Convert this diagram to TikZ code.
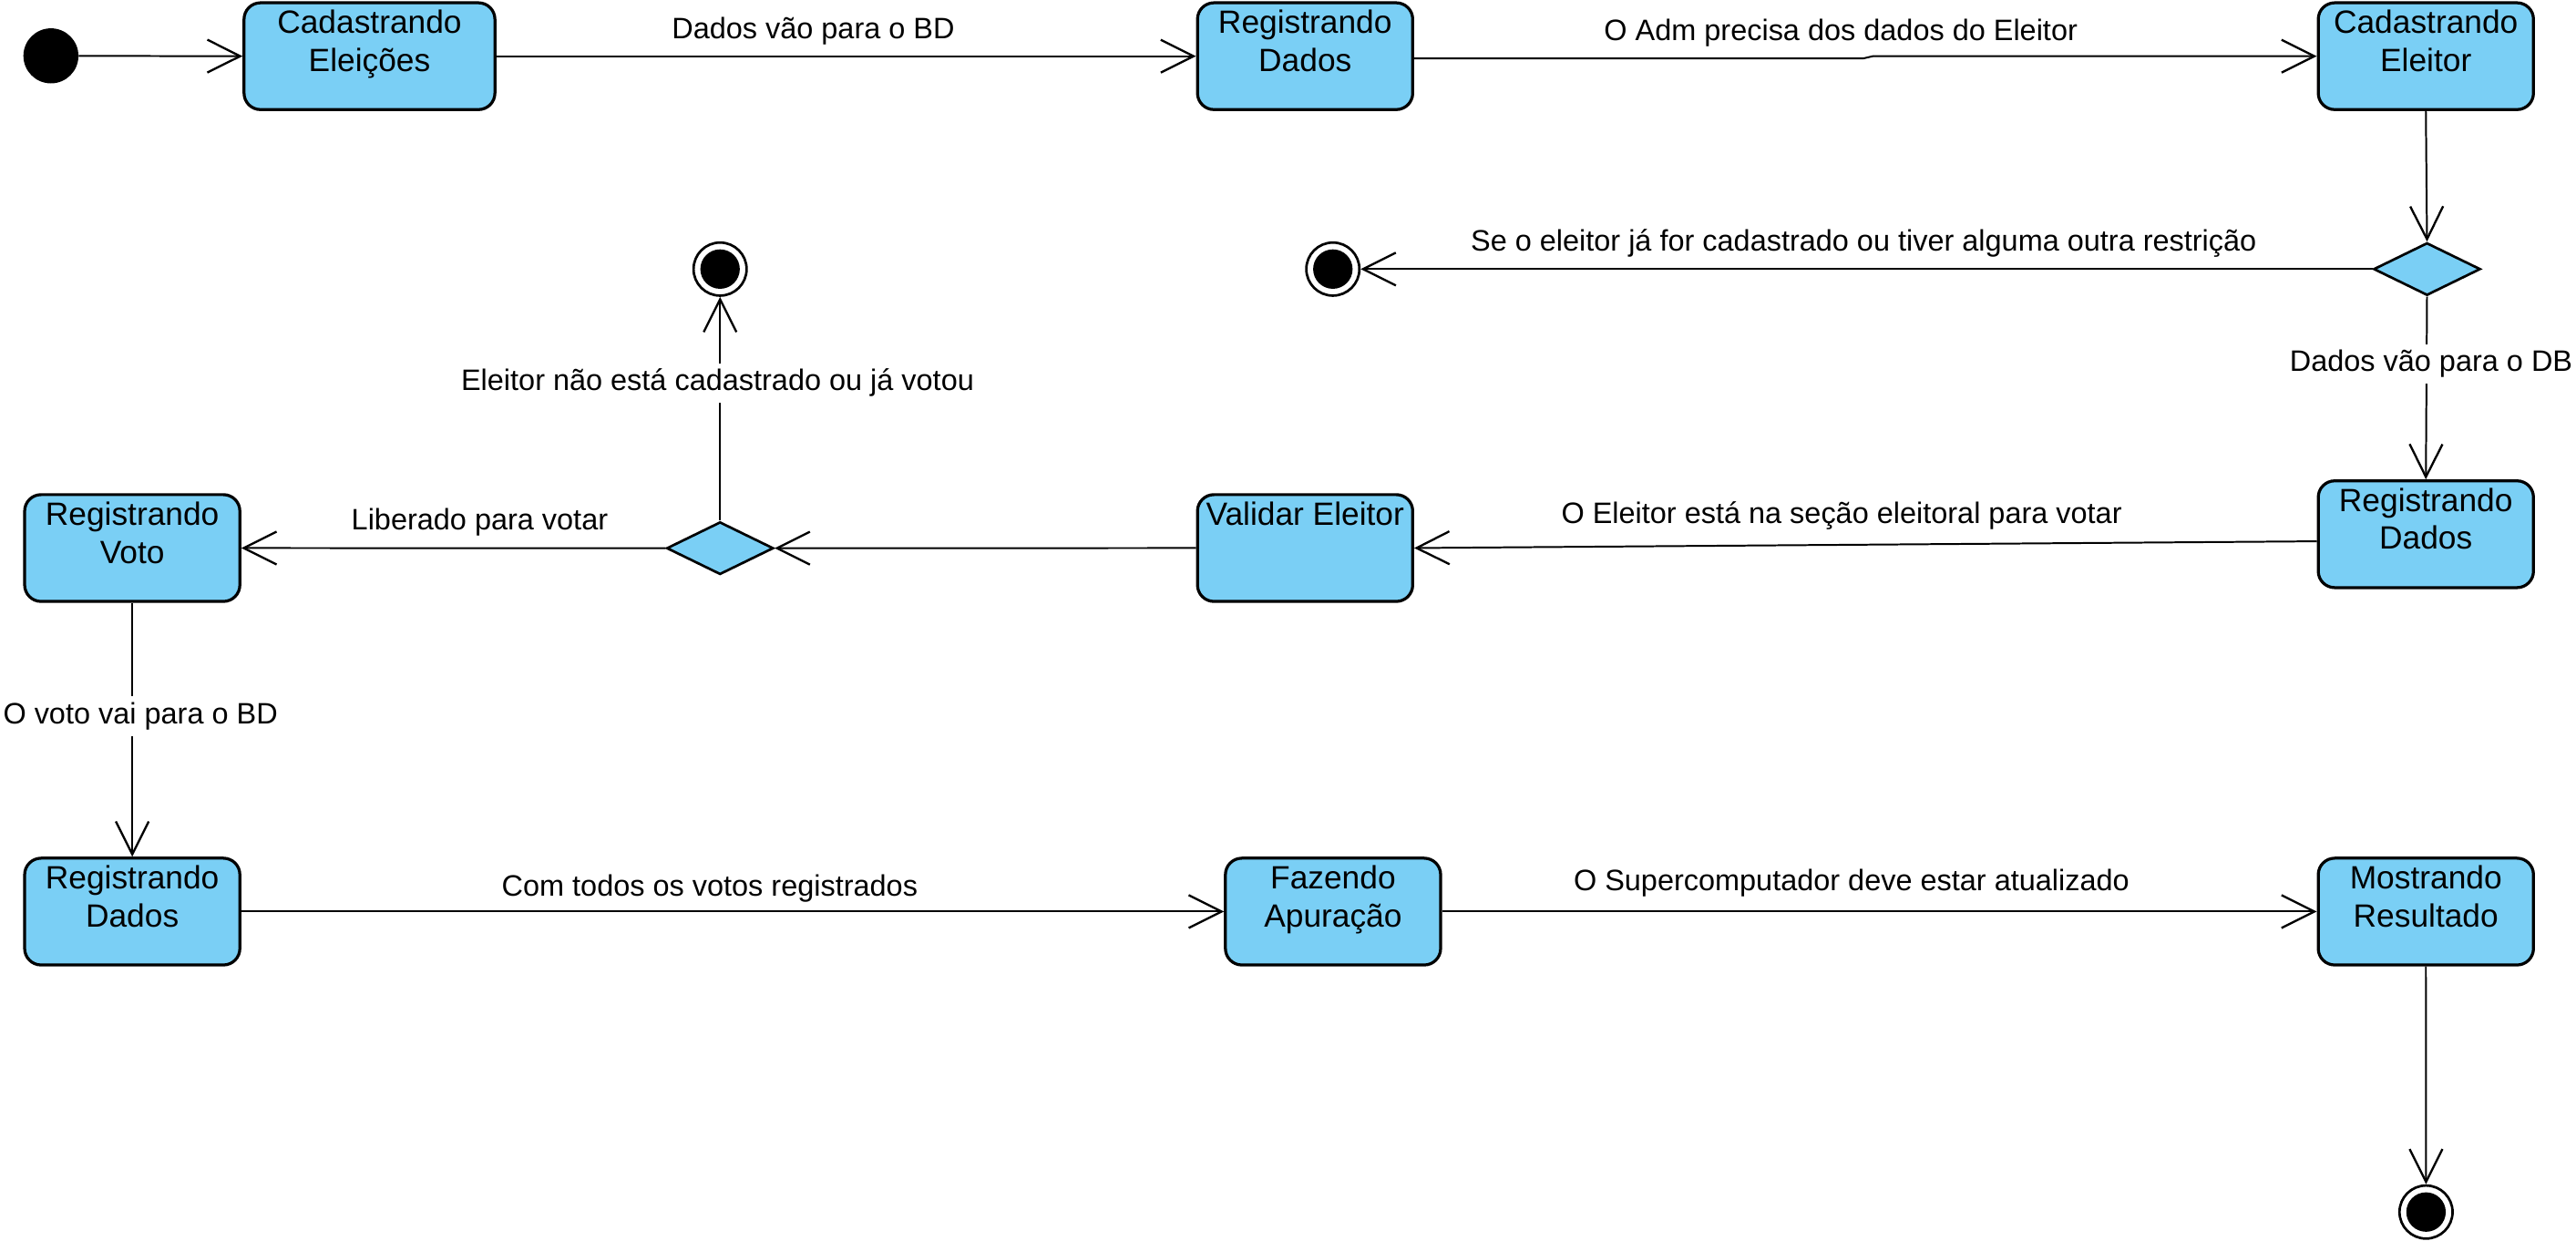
\documentclass[tikz,border=0pt]{standalone}
\usepackage{fontspec}
\setmainfont{Liberation Sans}
\usetikzlibrary{arrows.meta,shapes.geometric,calc}
\definecolor{boxblue}{RGB}{122,207,245}
\newcommand{\boxtxt}[1]{\parbox[t]{126pt}{\centering #1}}
\begin{document}
\begin{tikzpicture}[x=1pt,y=-1pt,
  statebox/.style={draw, line width=1.8pt, fill=boxblue, rounded corners=10pt,
    inner sep=0pt, minimum width=131pt, text height=18.7pt, text depth=46.3pt,
    font=\fontsize{19.6}{23}\selectfont},
  decision/.style={diamond, draw, line width=1.5pt, fill=boxblue, inner sep=0pt,
    minimum width=65pt, minimum height=32pt},
  initst/.style={circle, fill=black, inner sep=0pt, minimum size=33.5pt},
  finalst/.style={circle, draw, line width=1.5pt, fill=white, inner sep=0pt,
    minimum size=32.3pt,
    path picture={\fill[black] (path picture bounding box.center) circle (12pt);}},
  arr/.style={line width=1.1pt, -{Straight Barb[length=20pt,width=20pt,line width=1.3pt]}},
  lbl/.style={font=\fontsize{18}{21}\selectfont, inner sep=1pt, anchor=base},
  lblon/.style={lbl, fill=white, text height=13pt, text depth=4pt, inner xsep=2pt, inner ysep=3.5pt}]
\useasboundingbox (0,0) rectangle (1568,755.4);

% nodes
\node[initst] (init) at (31,34) {};
\node[statebox, minimum width=152.7pt] (b1) at (224.9,34.2) {\boxtxt{Cadastrando\\Eleições}};
\node[statebox] (b2) at (794.4,34.2) {\boxtxt{Registrando\\Dados}};
\node[statebox] (b3) at (1476.6,34.2) {\boxtxt{Cadastrando\\Eleitor}};
\node[decision] (d1) at (1477.3,163.8) {};
\node[finalst] (f1) at (811.3,163.8) {};
\node[statebox] (b4) at (1476.6,325.2) {\boxtxt{Registrando\\Dados}};
\node[statebox] (val) at (794.4,333.6) {\boxtxt{Validar Eleitor}};
\node[decision] (d2) at (438.3,333.7) {};
\node[finalst] (f2) at (438.3,163.8) {};
\node[statebox] (voto) at (80.5,333.6) {\boxtxt{Registrando\\Voto}};
\node[statebox] (b5) at (80.5,554.9) {\boxtxt{Registrando\\Dados}};
\node[statebox] (faz) at (811.4,554.9) {\boxtxt{Fazendo\\Apuração}};
\node[statebox] (most) at (1476.6,554.9) {\boxtxt{Mostrando\\Resultado}};
\node[finalst] (f3) at (1476.7,737.8) {};

% connectors
\draw[arr] (init) -- (b1.west);
\draw[arr] (b1.east) -- (b2.west);
\draw[arr] ($(b2.east)+(0,1.4)$) -- (1134,35.6) -- (1140,34.2) -- (b3.west);
\draw[arr] (b3.south) -- (d1.north);
\draw[arr] (d1.west) -- (f1.east);
\draw[arr] (d1.south) -- (b4.north);
\draw[arr] ($(b4.west)+(0,4.3)$) -- (val.east);
\draw[arr] (val.west) -- (d2.east);
\draw[arr] (d2.west) -- (voto.east);
\draw[arr] (d2.north) -- (f2.south);
\draw[arr] (voto.south) -- (b5.north);
\draw[arr] (b5.east) -- (faz.west);
\draw[arr] (faz.east) -- (most.west);
\draw[arr] (most.south) -- (f3.north);

% labels
\node[lbl] (l1) at (495,23.3) {Dados vão para o BD};
\node[lbl] (l2) at (1120.5,24.8) {O Adm precisa dos dados do Eleitor};
\node[lbl] (l3) at (1134.4,152.7) {Se o eleitor já for cadastrado ou tiver alguma outra restrição};
\node[lblon] (l4) at (1479.8,226) {Dados vão para o DB};
\node[lbl] (l5) at (1121,318.7) {O Eleitor está na seção eleitoral para votar};
\node[lbl] (l6) at (292,322.3) {Liberado para votar};
\node[lblon] (l7) at (436.8,237.6) {Eleitor não está cadastrado ou já votou};
\node[lblon] (l8) at (85.5,440.4) {O voto vai para o BD};
\node[lbl] (l9) at (432,545.3) {Com todos os votos registrados};
\node[lbl] (l10) at (1127,542.4) {O Supercomputador deve estar atualizado};
\end{tikzpicture}
\end{document}
